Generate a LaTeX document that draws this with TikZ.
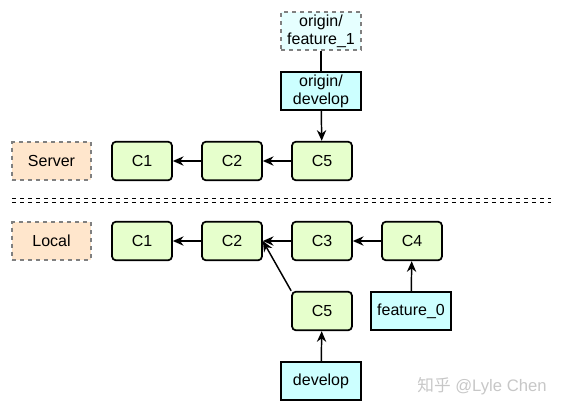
\documentclass[tikz,border=0pt]{standalone}
\usepackage{fontspec}
\setmainfont{Liberation Sans}
\newfontfamily\cjkfont{Noto Sans CJK SC}
\usetikzlibrary{arrows.meta}
\definecolor{commitgreen}{HTML}{E6FFCC}
\definecolor{refcyan}{HTML}{CCFFFF}
\definecolor{remotecyan}{HTML}{E6FFFF}
\definecolor{placepeach}{HTML}{FFE6CC}
\begin{document}
\begin{tikzpicture}[x=0.75pt,y=-0.75pt,
    every node/.style={font=\fontsize{12}{13.5}\selectfont},
    commit/.style={draw,line width=1.3pt,rounded corners=3pt,fill=commitgreen,
        minimum width=45pt,minimum height=29pt,inner sep=0pt},
    branchref/.style={draw,line width=1.3pt,fill=refcyan,align=center,
        minimum width=60pt,minimum height=29pt,inner sep=0pt},
    remoteref/.style={branchref,draw=gray,dashed,fill=remotecyan},
    place/.style={draw=gray,dashed,line width=1.3pt,fill=placepeach,
        minimum width=59pt,minimum height=28pt,inner sep=0pt},
    link/.style={line width=1.1pt,-{Stealth[length=8pt,width=7pt]}}]
    \useasboundingbox (0,0) rectangle (562,412);
    % server side
    \node[remoteref] (ofeat) at (321,31) {origin/\\feature\_1};
    \node[branchref] (odev) at (321,91) {origin/\\develop};
    \node[place] (server) at (51.5,161) {Server};
    \node[commit] (sc1) at (142,161) {C1};
    \node[commit] (sc2) at (232,161) {C2};
    \node[commit] (sc5) at (322,161) {C5};
    \draw[line width=1.1pt] (ofeat) -- (odev);
    \draw[link] (odev) -- (sc5);
    \draw[link] (sc5) -- (sc2);
    \draw[link] (sc2) -- (sc1);
    % separator
    \draw[dashed,line width=0.6pt] (12,198.5) -- (551,198.5);
    \draw[dashed,line width=0.6pt] (12,202) -- (551,202);
    % local side
    \node[place] (local) at (51.5,241) {Local};
    \node[commit] (lc1) at (142,241) {C1};
    \node[commit] (lc2) at (232,241) {C2};
    \node[commit] (lc3) at (322,241) {C3};
    \node[commit] (lc4) at (412,241) {C4};
    \node[commit] (lc5) at (322,311) {C5};
    \node[branchref] (feat) at (411,311) {feature\_0};
    \node[branchref] (dev) at (321,381) {develop};
    \draw[link] (lc2) -- (lc1);
    \draw[link] (lc3) -- (lc2);
    \draw[link] (lc4) -- (lc3);
    \draw[link] (lc5.north west) -- (lc2.east);
    \draw[link] (feat) -- (lc4);
    \draw[link] (dev) -- (lc5);
    \node[text=black!22,font=\fontsize{12.5}{14}\selectfont] (mark) at (482,386)
        {{\cjkfont 知乎} @Lyle Chen};
\end{tikzpicture}
\end{document}
